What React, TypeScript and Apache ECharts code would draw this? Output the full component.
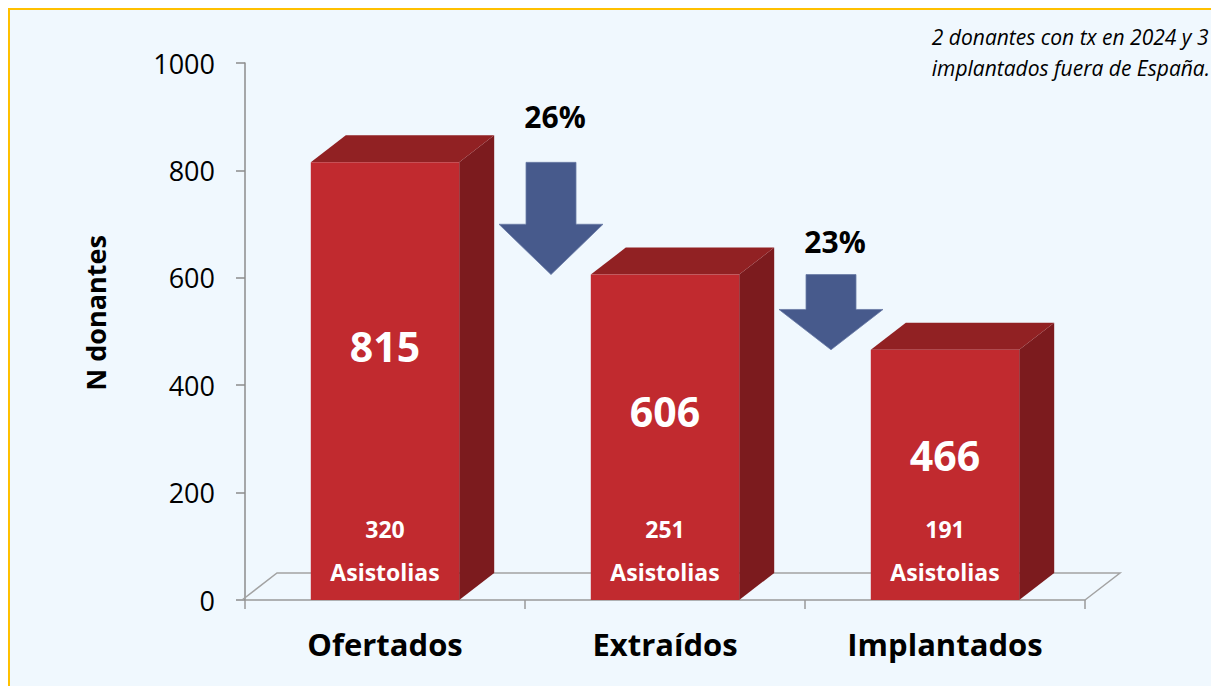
import React, { useEffect, useRef } from "react";
import * as echarts from "echarts";

const categories = ["Ofertados", "Extraídos", "Implantados"];
const totals = [815, 606, 466];
const asistolias = [320, 251, 191];
const drops = ["26%", "23%"];
const yTicks = { min: 0, max: 1000, interval: 200 };
const noteLines = ["2 donantes con tx en 2024 y 3", "implantados fuera de España."];
const yAxisTitle = "N donantes";

const FONT = "'Open Sans', 'Noto Sans', sans-serif";
const DX = 35;
const DY = 27;

export default function App() {
  const ref = useRef<HTMLDivElement>(null);

  useEffect(() => {
    if (!ref.current) return;
    const chart = echarts.init(ref.current, undefined, { renderer: "svg" });

    const barData = categories.map((c, i) => [i, totals[i], asistolias[i]]);
    const arrowData = drops.map((d, i) => [i, totals[i], totals[i + 1]]);

    chart.setOption({
      animation: false,
      backgroundColor: "transparent",
      textStyle: { fontFamily: FONT },
      grid: { left: 235, top: 53, right: 134, bottom: 86 },
      xAxis: {
        type: "category",
        data: categories,
        boundaryGap: true,
        axisLine: { show: true, lineStyle: { color: "#9A9A9A", width: 1.5 } },
        axisTick: { show: true, length: 9, inside: false, lineStyle: { color: "#9A9A9A", width: 1.5 } },
        axisLabel: {
          color: "#000",
          fontSize: 31,
          fontWeight: "bold",
          fontFamily: FONT,
          margin: 27,
          lineHeight: 34,
        },
        splitLine: { show: false },
      },
      yAxis: {
        type: "value",
        min: yTicks.min,
        max: yTicks.max,
        interval: yTicks.interval,
        axisLine: { show: true, lineStyle: { color: "#8C8C8C", width: 1.5 } },
        axisTick: { show: true, length: 9, inside: false, lineStyle: { color: "#8C8C8C", width: 1.5 } },
        axisLabel: {
          color: "#000",
          fontSize: 27,
          fontFamily: FONT,
          margin: 30,
          formatter: (v: number) => String(v),
        },
        splitLine: { show: false },
      },
      graphic: [
        {
          type: "text",
          right: 9,
          top: 11,
          style: {
            text: noteLines.join("\n"),
            fontSize: 21,
            fontStyle: "italic",
            fontFamily: FONT,
            fill: "#000",
            lineHeight: 31,
            align: "right",
          },
        },
        {
          type: "text",
          x: 85,
          y: 303,
          rotation: Math.PI / 2,
          style: {
            text: yAxisTitle,
            fontSize: 27,
            fontWeight: "bold",
            fontFamily: FONT,
            fill: "#000",
            align: "center",
            verticalAlign: "middle",
          },
        },
      ],
      series: [
        {
          type: "custom",
          name: "floor",
          z: 1,
          clip: false,
          data: [[0, 0]],
          encode: { x: 0, y: 1 },
          renderItem: (params: any, api: any) => {
            const cs = params.coordSys;
            const yb = cs.y + cs.height;
            return {
              type: "polyline",
              shape: {
                points: [
                  [cs.x - 3, yb],
                  [cs.x + DX - 3, yb - DY],
                  [cs.x + cs.width + DX, yb - DY],
                  [cs.x + cs.width, yb],
                ],
              },
              style: { stroke: "#A3A3A3", lineWidth: 1.5, fill: null },
            };
          },
        },
        {
          type: "custom",
          name: "bars",
          z: 2,
          clip: false,
          data: barData,
          encode: { x: 0, y: 1 },
          renderItem: (params: any, api: any) => {
            const idx = api.value(0);
            const v = api.value(1);
            const a = api.value(2);
            const top = api.coord([idx, v]);
            const base = api.coord([idx, 0]);
            const band = api.size([1, 0])[0];
            const w = band * 0.53;
            const x0 = top[0] - w / 2;
            const x1 = top[0] + w / 2;
            const yT = top[1];
            const yB = base[1];
            return {
              type: "group",
              children: [
                {
                  type: "polygon",
                  shape: { points: [[x1, yT], [x1 + DX, yT - DY], [x1 + DX, yB - DY], [x1, yB]] },
                  style: { fill: "#7C1B1E" },
                },
                {
                  type: "polygon",
                  shape: { points: [[x0, yT], [x0 + DX, yT - DY], [x1 + DX, yT - DY], [x1, yT]] },
                  style: { fill: "#912123" },
                },
                {
                  type: "rect",
                  shape: { x: x0, y: yT, width: w, height: yB - yT },
                  style: { fill: "#C12A2F" },
                },
                {
                  type: "text",
                  x: top[0],
                  y: yT + 0.42 * (yB - yT),
                  style: {
                    text: String(v),
                    fill: "#fff",
                    fontSize: 41,
                    fontWeight: "bold",
                    fontFamily: FONT,
                    align: "center",
                    verticalAlign: "middle",
                  },
                },
                {
                  type: "text",
                  x: top[0],
                  y: yB - 50,
                  style: {
                    text: a + "\nAsistolias",
                    fill: "#fff",
                    fontSize: 23,
                    fontWeight: "bold",
                    fontFamily: FONT,
                    lineHeight: 43,
                    align: "center",
                    verticalAlign: "middle",
                  },
                },
              ],
            };
          },
        },
        {
          type: "custom",
          name: "arrows",
          z: 3,
          clip: false,
          data: arrowData,
          encode: { x: 0, y: 1 },
          renderItem: (params: any, api: any) => {
            const idx = api.value(0);
            const from = api.coord([idx, api.value(1)]);
            const to = api.coord([idx, api.value(2)]);
            const band = api.size([1, 0])[0];
            const cx = from[0] + band / 2 + 26;
            const yTop = from[1];
            const yTip = to[1];
            const len = yTip - yTop;
            const headTop = yTip - (20 + 0.27 * len);
            const sw = 25;
            const hw = 52;
            return {
              type: "group",
              children: [
                {
                  type: "polygon",
                  shape: {
                    points: [
                      [cx - sw, yTop],
                      [cx + sw, yTop],
                      [cx + sw, headTop],
                      [cx + hw, headTop],
                      [cx, yTip],
                      [cx - hw, headTop],
                      [cx - sw, headTop],
                    ],
                  },
                  style: { fill: "#475A8C", stroke: "#6A7BA6", lineWidth: 0.8 },
                },
                {
                  type: "text",
                  x: cx + 4,
                  y: yTop - (8 + 0.34 * len),
                  style: {
                    text: drops[params.dataIndex],
                    fill: "#000",
                    fontSize: 30,
                    fontWeight: "bold",
                    fontFamily: FONT,
                    align: "center",
                    verticalAlign: "middle",
                  },
                },
              ],
            };
          },
        },
      ],
    });

    return () => chart.dispose();
  }, []);

  return (
    <div
      ref={ref}
      style={{
        width: 1209,
        height: 676,
        borderTop: "2px solid #FFC000",
        borderLeft: "2px solid #FFC000",
        background: "#F0F8FE",
      }}
    />
  );
}
